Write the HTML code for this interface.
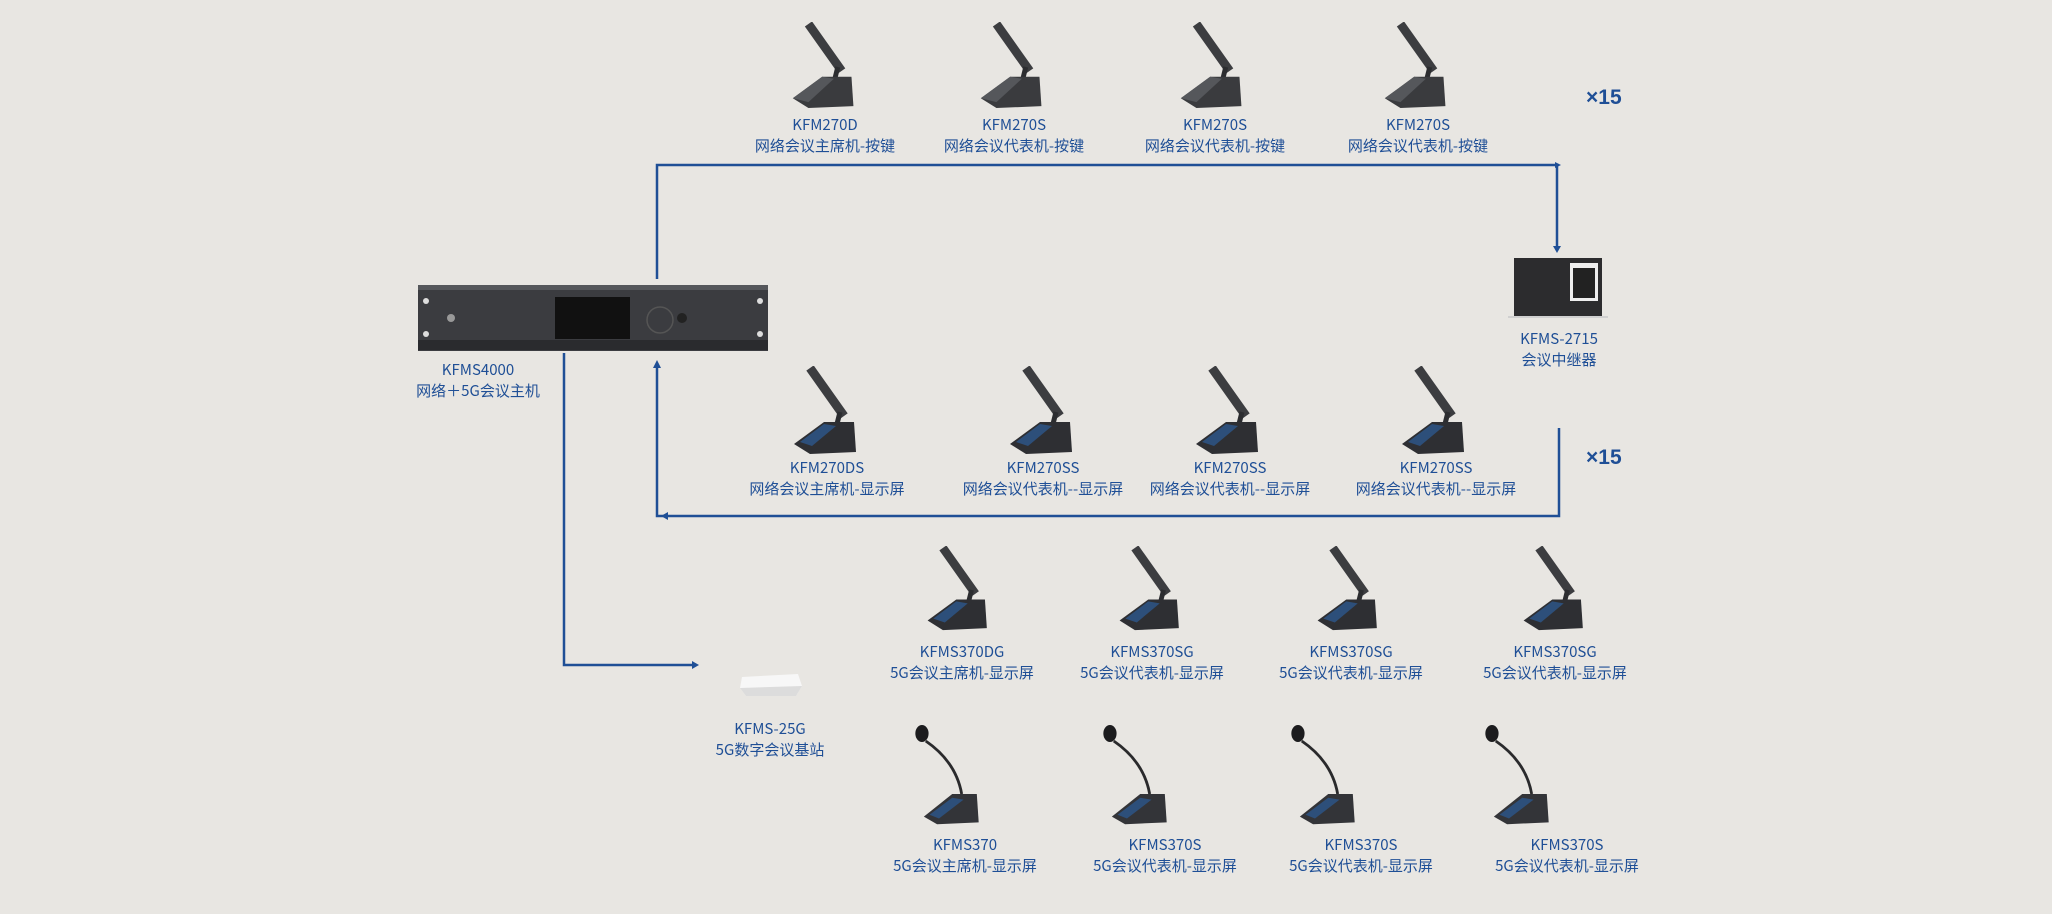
<!DOCTYPE html>
<html><head><meta charset="utf-8"><style>
html,body{margin:0;padding:0}
body{width:2052px;height:914px;position:relative;overflow:hidden;background:#e8e6e2;font-family:"Liberation Sans","Noto Sans CJK SC",sans-serif}
.l{position:absolute;color:#1f4f96;font-size:15px;line-height:21px;text-align:center;width:200px;transform:translateX(-100px);white-space:nowrap;font-family:"Noto Sans CJK SC","Liberation Sans",sans-serif}
.x{position:absolute;color:#1f4f96;font-size:21px;font-weight:bold;font-family:"Liberation Sans",sans-serif}
svg{position:absolute;left:0;top:0}
</style></head><body>
<svg width="2052" height="914" viewBox="0 0 2052 914">
<defs>
<symbol id="bar" viewBox="0 0 100 90">
<line x1="30" y1="2" x2="64" y2="50" stroke="#3c3d40" stroke-width="9"/>
<line x1="60" y1="46" x2="56" y2="62" stroke="#2c2d30" stroke-width="5"/>
<polygon points="14,78 44,56 74,56 76,86 30,88" fill="#3a3b3e"/>
<polygon points="14,78 44,56 56,58 30,82" fill="#55575b"/>
</symbol>
<symbol id="bars" viewBox="0 0 100 90">
<line x1="30" y1="2" x2="64" y2="50" stroke="#3c3d40" stroke-width="9"/>
<line x1="60" y1="46" x2="56" y2="62" stroke="#2c2d30" stroke-width="5"/>
<polygon points="14,78 44,56 74,56 76,86 30,88" fill="#2e2f33"/>
<polygon points="20,76 44,58 56,60 32,80" fill="#2d4f7a"/>
</symbol>
<symbol id="goose" viewBox="0 0 100 110">
<ellipse cx="14" cy="10" rx="7" ry="9" fill="#1c1c1e"/>
<path d="M18,18 Q50,40 56,74" stroke="#2a2a2c" stroke-width="3" fill="none"/>
<polygon points="16,98 46,74 72,74 74,104 30,106" fill="#333438"/>
<polygon points="22,96 46,78 58,80 32,100" fill="#2d4f7a"/>
</symbol>
</defs>
<g stroke="#1f4f96" stroke-width="2.5" fill="none">
<polyline points="657,279 657,165 1557,165 1557,248"/>
<polyline points="1559,428 1559,516 662,516 657,516 657,366"/>
<polyline points="564,353 564,665 694,665"/>
</g>
<g fill="#1f4f96">
<polygon points="1555,162 1555,168 1561,165"/>
<polygon points="1553,246 1561,246 1557,253"/>
<polygon points="653,368 661,368 657,360"/>
<polygon points="668,512 668,520 661,516"/>
<polygon points="692,661 692,669 699,665"/>
</g>
<rect x="418" y="285" width="350" height="66" fill="#3b3c40"/>
<rect x="418" y="285" width="350" height="5" fill="#55575b"/>
<rect x="418" y="340" width="350" height="10" fill="#2a2b2e"/>
<rect x="555" y="297" width="75" height="42" fill="#111"/>
<circle cx="660" cy="320" r="13" fill="none" stroke="#555" stroke-width="1.5"/>
<circle cx="682" cy="318" r="5" fill="#222"/>
<circle cx="451" cy="318" r="4" fill="#999"/>
<circle cx="426" cy="301" r="3" fill="#ddd"/><circle cx="426" cy="334" r="3" fill="#ddd"/>
<circle cx="760" cy="301" r="3" fill="#ddd"/><circle cx="760" cy="334" r="3" fill="#ddd"/>
<rect x="1514" y="258" width="88" height="58" fill="#2c2c2e"/>
<rect x="1570" y="263" width="28" height="38" fill="#eee"/>
<rect x="1573" y="268" width="22" height="30" fill="#222"/>
<rect x="1508" y="316" width="100" height="2" fill="#d0d0d0"/>
<polygon points="742,677 798,674 802,686 796,696 746,696 740,688" fill="#f7f7f7"/>
<polygon points="740,688 802,686 796,696 746,696" fill="#dcdcdc"/>
<use href="#bar" x="778" y="22" width="100" height="88"/>
<use href="#bar" x="966" y="22" width="100" height="88"/>
<use href="#bar" x="1166" y="22" width="100" height="88"/>
<use href="#bar" x="1370" y="22" width="100" height="88"/>
<use href="#bars" x="780" y="366" width="100" height="90"/>
<use href="#bars" x="996" y="366" width="100" height="90"/>
<use href="#bars" x="1182" y="366" width="100" height="90"/>
<use href="#bars" x="1388" y="366" width="100" height="90"/>
<use href="#bars" x="912" y="546" width="100" height="86"/>
<use href="#bars" x="1104" y="546" width="100" height="86"/>
<use href="#bars" x="1302" y="546" width="100" height="86"/>
<use href="#bars" x="1508" y="546" width="100" height="86"/>
<use href="#goose" x="906" y="724" width="100" height="104"/>
<use href="#goose" x="1094" y="724" width="100" height="104"/>
<use href="#goose" x="1282" y="724" width="100" height="104"/>
<use href="#goose" x="1476" y="724" width="100" height="104"/>
</svg>
<div class="x" style="left:1586px;top:86px">×15</div>
<div class="x" style="left:1586px;top:446px">×15</div>
<div class="l" style="left:478px;top:359px">KFMS4000<br>网络＋5G会议主机</div>
<div class="l" style="left:1559px;top:328px">KFMS-2715<br>会议中继器</div>
<div class="l" style="left:825px;top:114px">KFM270D<br>网络会议主席机-按键</div>
<div class="l" style="left:1014px;top:114px">KFM270S<br>网络会议代表机-按键</div>
<div class="l" style="left:1215px;top:114px">KFM270S<br>网络会议代表机-按键</div>
<div class="l" style="left:1418px;top:114px">KFM270S<br>网络会议代表机-按键</div>
<div class="l" style="left:827px;top:457px">KFM270DS<br>网络会议主席机-显示屏</div>
<div class="l" style="left:1043px;top:457px">KFM270SS<br>网络会议代表机--显示屏</div>
<div class="l" style="left:1230px;top:457px">KFM270SS<br>网络会议代表机--显示屏</div>
<div class="l" style="left:1436px;top:457px">KFM270SS<br>网络会议代表机--显示屏</div>
<div class="l" style="left:962px;top:641px">KFMS370DG<br>5G会议主席机-显示屏</div>
<div class="l" style="left:1152px;top:641px">KFMS370SG<br>5G会议代表机-显示屏</div>
<div class="l" style="left:1351px;top:641px">KFMS370SG<br>5G会议代表机-显示屏</div>
<div class="l" style="left:1555px;top:641px">KFMS370SG<br>5G会议代表机-显示屏</div>
<div class="l" style="left:770px;top:718px">KFMS-25G<br>5G数字会议基站</div>
<div class="l" style="left:965px;top:834px">KFMS370<br>5G会议主席机-显示屏</div>
<div class="l" style="left:1165px;top:834px">KFMS370S<br>5G会议代表机-显示屏</div>
<div class="l" style="left:1361px;top:834px">KFMS370S<br>5G会议代表机-显示屏</div>
<div class="l" style="left:1567px;top:834px">KFMS370S<br>5G会议代表机-显示屏</div>
</body></html>
